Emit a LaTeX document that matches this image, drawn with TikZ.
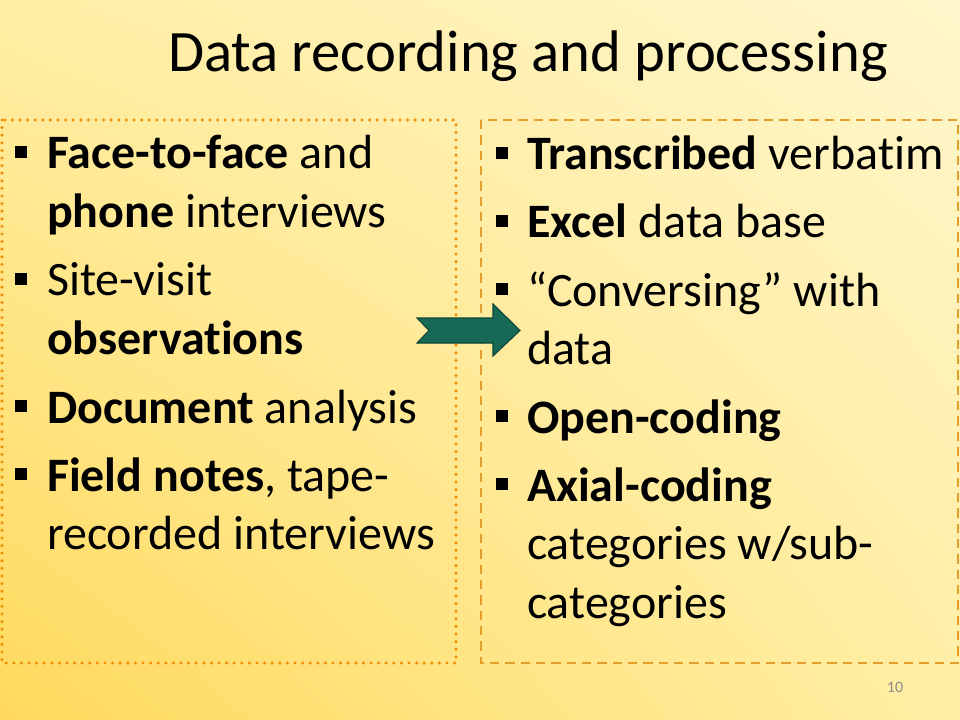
\documentclass[tikz,border=0pt]{standalone}
\usepackage{fontspec}
\setmainfont[Ligatures=NoCommon]{Carlito}
\usetikzlibrary{shadings}
\definecolor{slidelt}{HTML}{FFF6CC}
\definecolor{slidemid}{HTML}{FFEEA4}
\definecolor{slidedk}{HTML}{FFD95C}
\definecolor{dotorange}{HTML}{F28E06}
\definecolor{dashgold}{HTML}{E49E2C}
\definecolor{arrowfill}{HTML}{166955}
\definecolor{arrowline}{HTML}{0E4538}
\definecolor{pagegray}{HTML}{8C8C8C}
\begin{document}
\begin{tikzpicture}[
    x=0.75pt, y=-0.75pt,
    every node/.style={inner sep=0pt, outer sep=0pt},
    title/.style={anchor=base west, font=\fontsize{44}{53}\selectfont},
    item/.style={anchor=base west, font=\fontsize{36}{43.9}\selectfont},
    bullet/.style={fill=black, minimum size=9.6pt},
    leftbox/.style={draw=dotorange, line width=2.6pt, line cap=round, dash pattern=on 0pt off 5.7pt},
    rightbox/.style={draw=dashgold, line width=1.7pt, dash pattern=on 7pt off 4.5pt},
    bigarrow/.style={fill=arrowfill, draw=arrowline, line width=0.8pt, line join=miter}
    ]
    % background
    \shade[lower left=slidedk, upper left=slidemid, lower right=slidemid, upper right=slidelt]
      (0,720) rectangle (960,0);
    \useasboundingbox (0,0) rectangle (960,720);
    \node[title] (head) at (168,72) {Data recording and processing};
    % frames
    \draw[leftbox] (2,120) rectangle (456,663);
    \draw[rightbox] (481,120) rectangle (958,663);
    % left column
    \node[bullet] (lb1) at (21,152) {};
    \node[item] (f2f) at (47,169) {\parbox[t]{400pt}{\raggedright\textbf{Face-to-face} and\\ \textbf{phone} interviews}};
    \node[bullet] (lb2) at (21,279) {};
    \node[item] (site) at (47,296) {\parbox[t]{400pt}{\raggedright Site-visit\\ \textbf{observations}}};
    \node[bullet] (lb3) at (21,406) {};
    \node[item] (doc) at (47,423) {\textbf{Document} analysis};
    \node[bullet] (lb4) at (21,474) {};
    \node[item] (field) at (47,491) {\parbox[t]{400pt}{\raggedright\textbf{Field notes}, tape-\\ recorded interviews}};
    % right column
    \node[bullet] (rb1) at (502,153) {};
    \node[item] (trans) at (527,170) {\textbf{Transcribed} verbatim};
    \node[bullet] (rb2) at (502,221) {};
    \node[item] (excel) at (527,238) {\textbf{Excel} data base};
    \node[bullet] (rb3) at (502,289) {};
    \node[item] (convers) at (527,306) {\parbox[t]{400pt}{\raggedright “Conversing” with\\ data}};
    \node[bullet] (rb4) at (502,416) {};
    \node[item] (opencode) at (527,433) {\textbf{Open-coding}};
    \node[bullet] (rb5) at (502,484) {};
    \node[item] (axial) at (527,501) {\parbox[t]{400pt}{\raggedright\textbf{Axial-coding}\\ categories w/sub-\\ categories}};
    % arrow between the columns
    \draw[bigarrow] (417,318) -- (493,318) -- (493,304) -- (520,330.5) -- (493,356)
      -- (493,343) -- (417,343) -- (429,330.5) -- cycle;
    \node[anchor=base, font=\fontsize{12}{14}\selectfont, text=pagegray] (pagenum) at (895,692) {10};
\end{tikzpicture}
\end{document}
